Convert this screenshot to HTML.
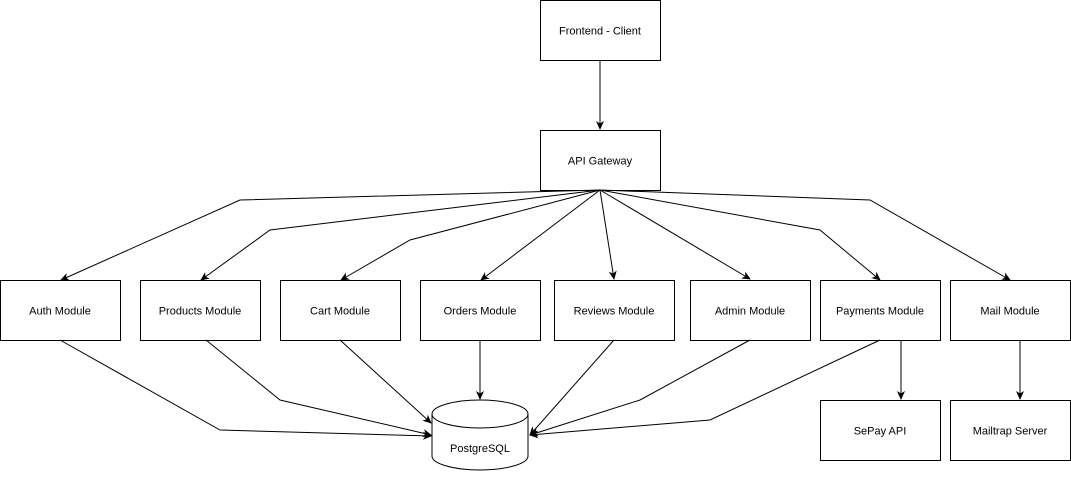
<!DOCTYPE html>
<html><head><style>body{margin:0;background:#fff}</style></head><body>
<svg width="1071" height="472" xmlns="http://www.w3.org/2000/svg" font-family="Liberation Sans, sans-serif" font-size="11">
<defs><marker id="a" markerWidth="10" markerHeight="10" refX="8" refY="5" orient="auto" markerUnits="userSpaceOnUse"><path d="M0,1 L9,5 L0,9 L2.5,5 Z" fill="#000"/></marker></defs>
<g fill="#fff" stroke="#000" stroke-width="1">
<rect x="540.5" y="0.5" width="120" height="60"/>
<rect x="540.5" y="130.5" width="120" height="60"/>
<rect x="0.5" y="280.5" width="120" height="60"/>
<rect x="140.5" y="280.5" width="120" height="60"/>
<rect x="280.5" y="280.5" width="120" height="60"/>
<rect x="420.5" y="280.5" width="120" height="60"/>
<rect x="554.5" y="280.5" width="120" height="60"/>
<rect x="690.5" y="280.5" width="120" height="60"/>
<rect x="820.5" y="280.5" width="120" height="60"/>
<rect x="950.5" y="280.5" width="120" height="60"/>
<rect x="820.5" y="400.5" width="120" height="60"/>
<rect x="950.5" y="400.5" width="120" height="60"/>
<path d="M432,414 A48,14 0 0 1 528,414 L528,456 A48,14 0 0 1 432,456 Z"/>
<path d="M432,414 A48,14 0 0 0 528,414" fill="none"/>
</g>
<g fill="none" stroke="#000" stroke-width="1" marker-end="url(#a)">
<path d="M600,60 V129"/>
<path d="M600,190 L240,200 L61,280"/>
<path d="M600,190 L270,230 L201,280"/>
<path d="M600,190 L410,240 L341,280"/>
<path d="M600,190 L481,280"/>
<path d="M600,190 L614,279"/>
<path d="M600,190 L750,279"/>
<path d="M600,190 L820,230 L880,280"/>
<path d="M600,190 L870,200 L1010,280"/>
<path d="M60,340 L220,430 L431,436"/>
<path d="M206,340 L280,400 L431,435"/>
<path d="M340,340 L431,423"/>
<path d="M480,340 V399"/>
<path d="M614,340 L530,435"/>
<path d="M750,340 L640,400 L530,435"/>
<path d="M880,340 L710,420 L530,435"/>
<path d="M901,340 V399"/>
<path d="M1020,340 V399"/>
</g>
<g text-anchor="middle" fill="#000">
<text x="600" y="34.5">Frontend - Client</text>
<text x="600" y="164.5">API Gateway</text>
<text x="60" y="314.5">Auth Module</text>
<text x="200" y="314.5">Products Module</text>
<text x="340" y="314.5">Cart Module</text>
<text x="480" y="314.5">Orders Module</text>
<text x="614" y="314.5">Reviews Module</text>
<text x="750" y="314.5">Admin Module</text>
<text x="880" y="314.5">Payments Module</text>
<text x="1010" y="314.5">Mail Module</text>
<text x="880" y="434.5">SePay API</text>
<text x="1010" y="434.5">Mailtrap Server</text>
<text x="480" y="452">PostgreSQL</text>
</g>
</svg>
</body></html>
